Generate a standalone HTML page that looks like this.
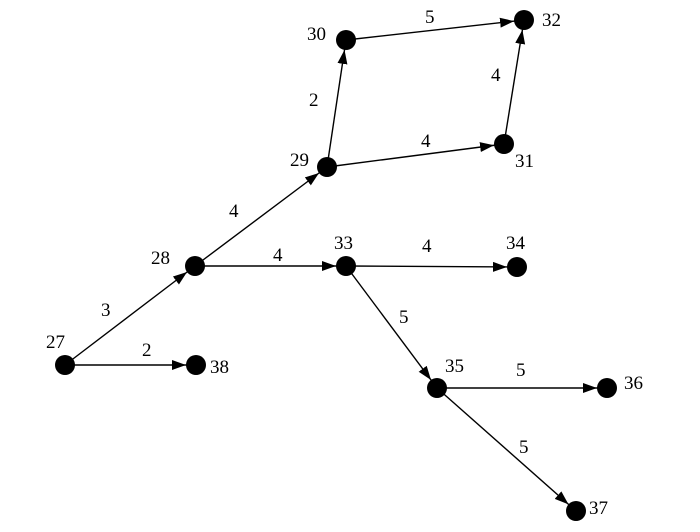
<!DOCTYPE html>
<html><head><meta charset="utf-8"><style>
html,body{margin:0;padding:0;background:#fff;}
svg text{font-family:"Liberation Serif",serif;font-size:19px;fill:#000;}
</style></head><body>
<svg width="700" height="527" viewBox="0 0 700 527" xmlns="http://www.w3.org/2000/svg">
<defs>
<marker id="a" markerUnits="userSpaceOnUse" markerWidth="30" markerHeight="12" refX="24" refY="5" orient="auto">
<path d="M0,0 L14,5 L0,10 z" fill="#000"/>
</marker>
</defs>
<g stroke="#000" stroke-width="1.4" marker-end="url(#a)">
<line x1="65" y1="365" x2="195" y2="266"/>
<line x1="65" y1="365" x2="196" y2="365"/>
<line x1="195" y1="266" x2="327" y2="167"/>
<line x1="195" y1="266" x2="346" y2="266"/>
<line x1="327" y1="167" x2="346" y2="40"/>
<line x1="327" y1="167" x2="504" y2="144"/>
<line x1="346" y1="40" x2="524" y2="20"/>
<line x1="504" y1="144" x2="524" y2="20"/>
<line x1="346" y1="266" x2="517" y2="267"/>
<line x1="346" y1="266" x2="437" y2="388"/>
<line x1="437" y1="388" x2="607" y2="388"/>
<line x1="437" y1="388" x2="576" y2="511"/>
</g>
<g fill="#000">
<circle cx="65" cy="365" r="10"/>
<circle cx="195" cy="266" r="10"/>
<circle cx="327" cy="167" r="10"/>
<circle cx="346" cy="40" r="10"/>
<circle cx="504" cy="144" r="10"/>
<circle cx="524" cy="20" r="10"/>
<circle cx="346" cy="266" r="10"/>
<circle cx="517" cy="267" r="10"/>
<circle cx="437" cy="388" r="10"/>
<circle cx="607" cy="388" r="10"/>
<circle cx="576" cy="511" r="10"/>
<circle cx="196" cy="365" r="10"/>
</g>
<g>
<text x="307" y="40">30</text>
<text x="542" y="26">32</text>
<text x="425" y="23">5</text>
<text x="309" y="106">2</text>
<text x="491" y="81">4</text>
<text x="290" y="166">29</text>
<text x="421" y="147">4</text>
<text x="515" y="167">31</text>
<text x="229" y="217">4</text>
<text x="151" y="264">28</text>
<text x="273" y="261">4</text>
<text x="334" y="249">33</text>
<text x="422" y="252">4</text>
<text x="506" y="249">34</text>
<text x="101" y="316">3</text>
<text x="46" y="348">27</text>
<text x="142" y="356">2</text>
<text x="210" y="373">38</text>
<text x="399" y="323">5</text>
<text x="445" y="372">35</text>
<text x="516" y="376">5</text>
<text x="624" y="389">36</text>
<text x="519" y="453">5</text>
<text x="589" y="514">37</text>
</g>
</svg>
</body></html>
